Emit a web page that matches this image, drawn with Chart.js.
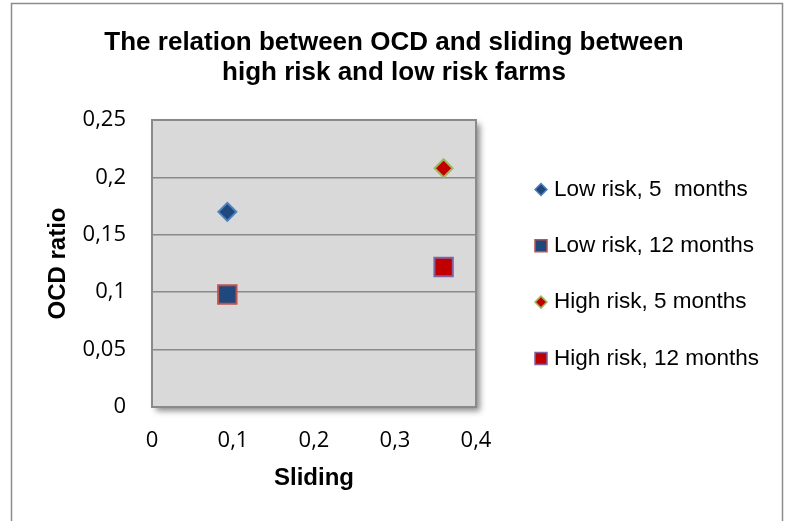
<!DOCTYPE html>
<html><head><meta charset="utf-8">
<script src="https://cdn.jsdelivr.net/npm/chart.js@4/dist/chart.umd.min.js"></script>
<style>html,body{margin:0;padding:0;background:#fff;}canvas{display:block;}</style>
</head><body>
<canvas id="c" width="788" height="521"></canvas>
<script>
// ---- data ----
const titleLines = ['The relation between OCD and sliding between', 'high risk and low risk farms'];
const seriesNames = ['Low risk, 5  months', 'Low risk, 12 months', 'High risk, 5 months', 'High risk, 12 months'];
const slidingValues = [0.093, 0.093, 0.36, 0.36];
const ocdValues = [0.17, 0.098, 0.208, 0.122];
const xTickValues = [0, 0.1, 0.2, 0.3, 0.4];
const yTickValues = [0, 0.05, 0.1, 0.15, 0.2, 0.25];
const xAxisTitle = 'Sliding';
const yAxisTitle = 'OCD ratio';

// ---- styles ----
const markerShapes = ['rectRot', 'rect', 'rectRot', 'rect'];
const markerFill = ['#1f497d', '#1f497d', '#c00000', '#c00000'];
const markerBorder = ['#4f81bd', '#c0504d', '#9bbb59', '#8064a2'];
const markerRadius = [9, 13, 9, 13];
const legendRadius = [6, 8.5, 6, 8.5];

const fmt = v => String(Number(v.toFixed(2))).replace('.', ',');

const datasets = seriesNames.map((name, i) => ({
  label: name,
  data: [{x: slidingValues[i], y: ocdValues[i]}],
  pointStyle: markerShapes[i],
  backgroundColor: markerFill[i],
  borderColor: markerBorder[i],
  pointRadius: markerRadius[i],
  pointHoverRadius: markerRadius[i],
  pointBorderWidth: 2,
  showLine: false
}));

function drawShape(ctx, shape, x, y, r) {
  ctx.beginPath();
  if (shape === 'rectRot') {
    ctx.moveTo(x - r, y); ctx.lineTo(x, y - r); ctx.lineTo(x + r, y); ctx.lineTo(x, y + r);
  } else {
    const s = Math.SQRT1_2 * r;
    ctx.rect(x - s, y - s, 2 * s, 2 * s);
  }
  ctx.closePath();
  ctx.fill(); ctx.stroke();
}

const decor = {
  id: 'decor',
  beforeDraw(chart) {
    const ctx = chart.ctx, a = chart.chartArea;
    ctx.save();
    // outer frame
    ctx.strokeStyle = '#8c8c8c'; ctx.lineWidth = 1.5;
    ctx.strokeRect(11.5, 3.5, 771, 600);
    // plot area with shadow
    ctx.shadowColor = 'rgba(0,0,0,0.45)';
    ctx.shadowBlur = 6; ctx.shadowOffsetX = 4; ctx.shadowOffsetY = 4;
    ctx.fillStyle = '#d9d9d9';
    ctx.fillRect(a.left, a.top, a.right - a.left, a.bottom - a.top);
    ctx.restore();
    ctx.save();
    ctx.strokeStyle = '#8a8a8a'; ctx.lineWidth = 2;
    ctx.strokeRect(a.left, a.top, a.right - a.left, a.bottom - a.top);
    // title
    ctx.fillStyle = '#000';
    ctx.font = 'bold 26px "Liberation Sans", Arial, sans-serif';
    ctx.textAlign = 'center'; ctx.textBaseline = 'middle';
    titleLines.forEach((t, i) => ctx.fillText(t, 394, 43 + i * 30));
    ctx.restore();
  },
  afterDraw(chart) {
    const ctx = chart.ctx;
    ctx.save();
    chart.data.datasets.forEach((ds, i) => {
      const y = 189.5 + i * 56.3;
      ctx.fillStyle = ds.backgroundColor; ctx.strokeStyle = ds.borderColor; ctx.lineWidth = 1.5;
      drawShape(ctx, ds.pointStyle, 541, y, legendRadius[i]);
      ctx.fillStyle = '#000';
      ctx.font = '22.5px "Liberation Sans", Arial, sans-serif';
      ctx.textAlign = 'left'; ctx.textBaseline = 'middle';
      ctx.fillText(ds.label, 554, y);
    });
    ctx.restore();
  }
};

new Chart(document.getElementById('c'), {
  type: 'scatter',
  data: { datasets },
  options: {
    responsive: false,
    animation: false,
    devicePixelRatio: 1,
    layout: { padding: { left: 30, top: 120, right: 312, bottom: 14 } },
    plugins: { legend: { display: false }, title: { display: false }, tooltip: { enabled: false } },
    scales: {
      x: {
        type: 'linear', min: 0, max: 0.4,
        afterBuildTicks: s => { s.ticks = xTickValues.map(v => ({value: v})); },
        afterFit: s => { s.height = 100; },
        grid: { display: false, drawTicks: false },
        border: { display: false },
        ticks: { padding: 21, color: '#000', font: { family: '"Open Sans", sans-serif', size: 22 }, callback: v => fmt(v) },
        title: { display: true, text: xAxisTitle, color: '#000', padding: { top: 0, bottom: 14.6 },
                 font: { family: '"Liberation Sans", Arial, sans-serif', size: 24, weight: 'bold' } }
      },
      y: {
        type: 'linear', min: 0, max: 0.25,
        afterBuildTicks: s => { s.ticks = yTickValues.map(v => ({value: v})); },
        afterFit: s => { s.width = 122; },
        grid: { color: '#8a8a8a', lineWidth: 1.5, drawTicks: false },
        border: { display: false },
        ticks: { padding: 26, color: '#000', font: { family: '"Open Sans", sans-serif', size: 22 }, callback: v => fmt(v) },
        title: { display: true, text: yAxisTitle, color: '#000', padding: { top: 13.6, bottom: 0 },
                 font: { family: '"Liberation Sans", Arial, sans-serif', size: 24, weight: 'bold' } }
      }
    }
  },
  plugins: [decor]
});
</script>
</body></html>
